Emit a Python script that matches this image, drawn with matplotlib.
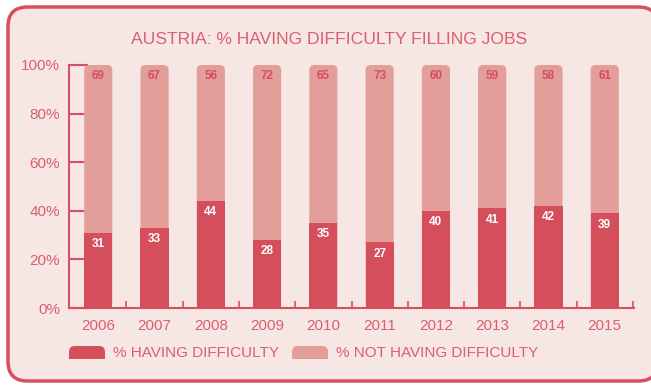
import matplotlib.pyplot as plt
from matplotlib.patches import FancyBboxPatch, Rectangle
import numpy as np

years = ["2006", "2007", "2008", "2009", "2010", "2011", "2012", "2013", "2014", "2015"]
having = [31, 33, 44, 28, 35, 27, 40, 41, 42, 39]
not_having = [69, 67, 56, 72, 65, 73, 60, 59, 58, 61]

dark = "#D44E5C"
light = "#E39E99"
bg = "#F6E6E4"
txt = "#D9606C"

plt.rcParams['font.family'] = ['Liberation Sans', 'DejaVu Sans']

fig = plt.figure(figsize=(6.51, 3.85), dpi=100)
fig.patch.set_facecolor("white")

# rounded panel behind everything
panel = FancyBboxPatch((8 / 651, 4 / 385), 650 / 651, 374 / 385,
                       boxstyle="round,pad=0,rounding_size=0.03",
                       mutation_aspect=651 / 385,
                       transform=fig.transFigure, facecolor=bg,
                       edgecolor="#D84F5E", linewidth=2.5, zorder=-5)
fig.patches.append(panel)

ax = fig.add_axes([69 / 651, 77 / 385, 565 / 651, 243 / 385])
ax.set_facecolor("none")
x = np.arange(len(years))
w = 0.5

for i in range(len(years)):
    top = having[i] + not_having[i]
    ax.add_patch(FancyBboxPatch((x[i] - w / 2, 0), w, top,
                                boxstyle="round,pad=0,rounding_size=0.09",
                                mutation_aspect=23,
                                facecolor=light, edgecolor="none", zorder=2))
ax.bar(x, having, width=w, color=dark, zorder=3)

for i in range(len(years)):
    ax.text(x[i], having[i] - 2.2, str(having[i]), ha="center", va="top",
            color="white", fontsize=8.5, fontweight="bold", zorder=4)
    ax.text(x[i], having[i] + not_having[i] - 2.2, str(not_having[i]),
            ha="center", va="top", color=dark, fontsize=8.5,
            fontweight="bold", zorder=4)

ax.set_xlim(-0.52, len(years) - 0.48)
ax.set_ylim(0, 100)
ax.set_yticks([0, 20, 40, 60, 80, 100])
ax.set_yticklabels(["0%", "20%", "40%", "60%", "80%", "100%"])
ax.set_xticks(x)
ax.set_xticklabels(years)
ax.set_xticks(np.arange(0.5, len(years)), minor=True)

for s in ["top", "right"]:
    ax.spines[s].set_visible(False)
for s in ["left", "bottom"]:
    ax.spines[s].set_color("#D84F5E")
    ax.spines[s].set_linewidth(1.5)

ax.tick_params(axis="y", direction="in", length=14, width=1.5, color="#D84F5E",
               labelcolor=txt, labelsize=11, pad=6.5)
ax.tick_params(axis="x", which="major", length=0, labelcolor=txt,
               labelsize=11, pad=8)
ax.tick_params(axis="x", which="minor", direction="in", length=5, width=1.2,
               color="#D84F5E")

fig.text(329 / 651, 1 - 40 / 385, "AUSTRIA: % HAVING DIFFICULTY FILLING JOBS",
         ha="center", va="center", color=txt, fontsize=12.6)

# legend built by hand: rounded top, flat bottom
for px, col, label in [(69, dark, "% HAVING DIFFICULTY"),
                       (292, light, "% NOT HAVING DIFFICULTY")]:
    fig.patches.append(FancyBboxPatch((px / 651, 26 / 385), 36 / 651, 13 / 385,
                                      boxstyle="round,pad=0,rounding_size=0.009",
                                      mutation_aspect=651 / 385,
                                      transform=fig.transFigure,
                                      facecolor=col, edgecolor="none"))
    fig.patches.append(Rectangle((px / 651, 26 / 385), 36 / 651, 6 / 385,
                                 transform=fig.transFigure,
                                 facecolor=col, edgecolor="none"))
    fig.text((px + 44) / 651, 32 / 385, label, ha="left", va="center",
             color=txt, fontsize=11)

fig.savefig("out.png", dpi=100)
